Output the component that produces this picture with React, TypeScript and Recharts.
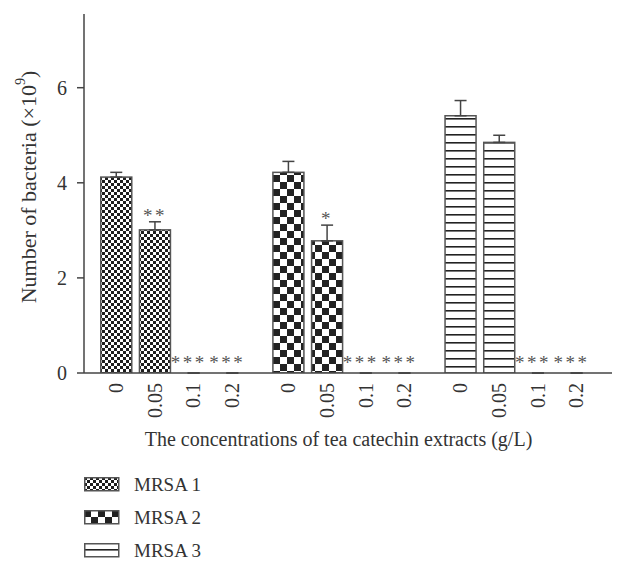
import { BarChart, Bar, XAxis, YAxis, ErrorBar } from 'recharts'

const concentrations = ['0', '0.05', '0.1', '0.2']
const seriesNames = ['MRSA 1', 'MRSA 2', 'MRSA 3']

const mrsa1 = [4.12, 3.01, 0, 0]
const mrsa1Err = [0.1, 0.17, 0, 0]
const mrsa1Sig = ['', '**', '***', '***']

const mrsa2 = [4.22, 2.78, 0, 0]
const mrsa2Err = [0.23, 0.33, 0, 0]
const mrsa2Sig = ['', '*', '***', '***']

const mrsa3 = [5.41, 4.85, 0, 0]
const mrsa3Err = [0.32, 0.15, 0, 0]
const mrsa3Sig = ['', '', '***', '***']

const yTicks = [0, 2, 4, 6]

const GROUP_STRIDE = 4.45
const FONT = '"Liberation Serif", "DejaVu Serif", serif'
const INK = '#333'

const series = [
  { values: mrsa1, err: mrsa1Err, sig: mrsa1Sig },
  { values: mrsa2, err: mrsa2Err, sig: mrsa2Sig },
  { values: mrsa3, err: mrsa3Err, sig: mrsa3Sig },
]

const rows = series.flatMap((s, g) =>
  concentrations.map((c, i) => ({
    pos: g * GROUP_STRIDE + i,
    conc: c,
    group: g,
    value: s.values[i],
    err: [0, s.err[i]],
    sig: s.sig[i],
  }))
)

const tickPositions = rows.map((r) => r.pos)
const labelFor = (p: number) => rows.find((r) => r.pos === p)?.conc ?? ''

function Patterns() {
  return (
    <svg width={0} height={0} style={{ position: 'absolute' }}>
      <defs>
        <pattern id="pat0" width={6} height={6} patternUnits="userSpaceOnUse">
          <rect width={6} height={6} fill="#fff" />
          <rect width={3} height={3} fill="#1e1e1e" />
          <rect x={3} y={3} width={3} height={3} fill="#1e1e1e" />
        </pattern>
        <pattern id="pat1" width={14} height={14} patternUnits="userSpaceOnUse">
          <rect width={14} height={14} fill="#fff" />
          <rect width={7} height={7} fill="#222" />
          <rect x={7} y={7} width={7} height={7} fill="#222" />
        </pattern>
        <pattern id="pat2" width={8} height={8} patternUnits="userSpaceOnUse">
          <rect width={8} height={8} fill="#fff" />
          <rect y={6} width={8} height={1.6} fill="#222" />
        </pattern>
      </defs>
    </svg>
  )
}

const BarShape = (props: any) => {
  const { x, y, width, height, payload } = props
  const v = payload.value
  const errPx = v > 0 ? (payload.err[1] * height) / v : 0
  const top = v > 0 ? y : y + height
  return (
    <g>
      {v > 0 && (
        <rect
          x={x}
          y={y}
          width={width}
          height={height}
          fill={`url(#pat${payload.group})`}
          stroke="#555"
          strokeWidth={1.5}
        />
      )}
      {payload.sig && (
        <text
          x={x + width / 2 - (v > 0 ? 0 : 5)}
          y={top - errPx - (v > 0 ? 0 : 4)}
          textAnchor="middle"
          fontFamily={FONT}
          fontSize={19}
          letterSpacing={2.5}
          fill="#555"
        >
          {payload.sig}
        </text>
      )}
    </g>
  )
}

const XTick = ({ x, y, payload }: any) => (
  <text
    x={x}
    y={y + 10}
    transform={`rotate(-90, ${x}, ${y + 10})`}
    textAnchor="end"
    dominantBaseline="central"
    fontFamily={FONT}
    fontSize={20}
    fill={INK}
  >
    {labelFor(payload.value)}
  </text>
)

const YTitle = () => (
  <text
    x={28}
    y={187}
    transform="rotate(-90, 28, 187)"
    textAnchor="middle"
    dominantBaseline="central"
    fontFamily={FONT}
    fontSize={22}
    fill={INK}
  >
    Number of bacteria (×10
    <tspan dy={-8} fontSize={14}>9</tspan>
    <tspan dy={8}>)</tspan>
  </text>
)

const XTitle = ({ viewBox }: any) => (
  <text
    x={viewBox.x + viewBox.width / 2 - 13}
    y={446}
    textAnchor="middle"
    fontFamily={FONT}
    fontSize={20}
    fill={INK}
  >
    The concentrations of tea catechin extracts (g/L)
  </text>
)

function LegendBox() {
  return (
    <div style={{ position: 'absolute', left: 84, top: 468, fontFamily: FONT, fontSize: 19, color: INK }}>
      {seriesNames.map((name, i) => (
        <div key={name} style={{ display: 'flex', alignItems: 'center', height: 33 }}>
          <svg width={37} height={15} style={{ marginRight: 13 }}>
            <rect x={0.75} y={0.75} width={34} height={13} fill={`url(#pat${i})`} stroke="#555" strokeWidth={1.5} />
          </svg>
          <span>{name}</span>
        </div>
      ))}
    </div>
  )
}

export default function App() {
  return (
    <div
      style={{
        position: 'relative',
        width: 620,
        height: 563,
        margin: '-8px -8px 0 -8px',
        background: '#fff',
        overflow: 'visible',
      }}
    >
      <Patterns />
      <BarChart width={620} height={563} data={rows} margin={{ top: 14, right: 1, left: 0, bottom: 130 }}>
        <XAxis
          dataKey="pos"
          type="number"
          domain={[-0.83, 13]}
          ticks={tickPositions}
          interval={0}
          tick={<XTick />}
          tickLine={false}
          tickSize={0}
          tickMargin={0}
          height={60}
          axisLine={{ stroke: '#444', strokeWidth: 1.5 }}
          label={(p: any) => <XTitle {...p} />}
          allowDataOverflow
        />
        <YAxis
          domain={[0, 7.55]}
          ticks={yTicks}
          width={84}
          tickSize={7}
          tickMargin={10}
          tick={{ fontFamily: FONT, fontSize: 20, fill: INK }}
          axisLine={{ stroke: '#444', strokeWidth: 1.5 }}
          tickLine={{ stroke: '#444', strokeWidth: 1.5 }}
          label={() => <YTitle />}
          allowDataOverflow
        />
        <Bar dataKey="value" barSize={31} minPointSize={1} shape={BarShape} isAnimationActive={false}>
          <ErrorBar dataKey="err" width={6} stroke="#444" strokeWidth={1.5} direction="y" />
        </Bar>
      </BarChart>
      <LegendBox />
    </div>
  )
}
